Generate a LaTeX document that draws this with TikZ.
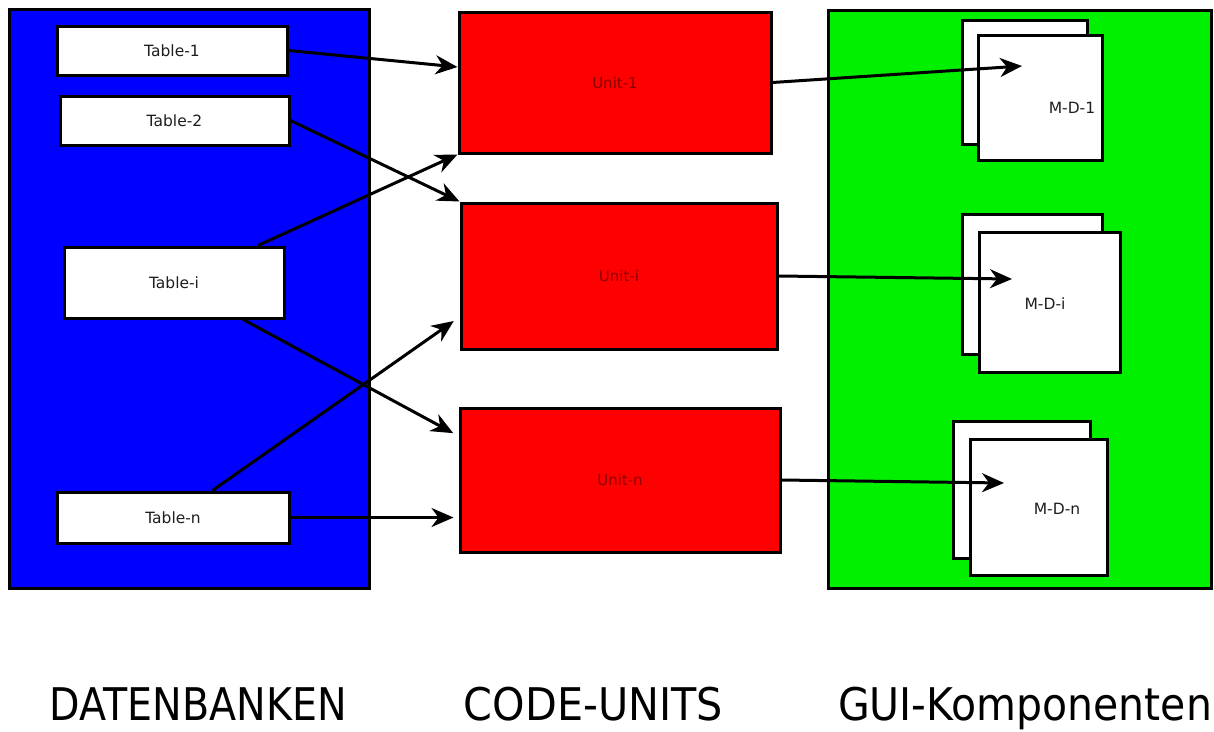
\documentclass[tikz,border=0pt]{standalone}
\usepackage{fontspec}
\usepackage{graphicx}
\setmainfont{DejaVu Sans}
\usetikzlibrary{arrows.meta,calc}

\definecolor{dbblue}{RGB}{0,0,255}
\definecolor{unitred}{RGB}{255,0,0}
\definecolor{guigreen}{RGB}{0,240,0}
\definecolor{unittext}{RGB}{140,0,0}
\definecolor{labeltext}{RGB}{30,30,30}

\tikzset{
  panel/.style={draw=black, line width=3pt, inner sep=0pt},
  tablebox/.style={draw=black, fill=white, line width=3pt, inner sep=0pt,
    font=\fontsize{15.5}{17}\selectfont, text=labeltext},
  unitbox/.style={draw=black, fill=unitred, line width=3pt, inner sep=0pt,
    font=\fontsize{15}{17}\selectfont, text=unittext},
  sheet/.style={draw=black, fill=white, line width=3pt, inner sep=0pt},
  sheetlabel/.style={font=\fontsize{15.5}{17}\selectfont, text=labeltext, inner sep=0pt},
  title/.style={font=\fontsize{45}{50}\selectfont, anchor=base, inner sep=0pt},
  link/.style={line width=3pt, -{Stealth[length=22pt, width=19pt, inset=7pt]}},
}

\begin{document}
\begin{tikzpicture}[x=1pt, y=-1pt]
  \useasboundingbox (0,0) rectangle (1214,731);

  % column backgrounds
  \node[panel, fill=dbblue, minimum width=360pt, minimum height=579pt] (db) at (189,298.5) {};
  \node[panel, fill=guigreen, minimum width=383pt, minimum height=578pt] (gui) at (1019.5,299) {};

  % database tables
  \node[tablebox, minimum width=230pt, minimum height=49pt] (t1) at (172,50.5) {Table-1};
  \node[tablebox, minimum width=229pt, minimum height=49pt] (t2) at (174.5,120.5) {Table-2};
  \node[tablebox, minimum width=220pt, minimum height=71pt] (ti) at (174,282.5) {Table-i};
  \node[tablebox, minimum width=232pt, minimum height=51pt] (tn) at (173,517.5) {Table-n};

  % code units
  \node[unitbox, minimum width=312pt, minimum height=141pt] (u1) at (615,82.5) {Unit-1};
  \node[unitbox, minimum width=316pt, minimum height=146pt] (ui) at (619,276) {Unit-i};
  \node[unitbox, minimum width=320pt, minimum height=144pt] (un) at (620,480) {Unit-n};

  % GUI components: stacked master-detail sheets
  \node[sheet, minimum width=125pt, minimum height=124pt] (m1b) at (1024.5,82) {};
  \node[sheet, minimum width=124pt, minimum height=125pt] (m1) at (1040,97.5) {};
  \node[sheetlabel] (m1l) at (1072,108) {M-D-1};

  \node[sheet, minimum width=140pt, minimum height=140pt] (mib) at (1032,284) {};
  \node[sheet, minimum width=141pt, minimum height=140pt] (mi) at (1049.5,302) {};
  \node[sheetlabel] (mil) at (1045,304) {M-D-i};

  \node[sheet, minimum width=137pt, minimum height=137pt] (mnb) at (1021.5,489.5) {};
  \node[sheet, minimum width=137pt, minimum height=136pt] (mn) at (1038.5,507) {};
  \node[sheetlabel] (mnl) at (1057,509) {M-D-n};

  % arrow targets inside the sheets
  \coordinate (a1) at (1022,66);
  \coordinate (ai) at (1012,279);
  \coordinate (an) at (1004,483);

  % tables -> units
  \draw[link] (t1.east) -- (u1.west |- 0,67);
  \draw[link] (t2.east) -- (ui.north west);
  \draw[link] ($(ti.north west)!0.877!(ti.north east)$) -- (u1.south west);
  \draw[link, shorten >=6pt] ($(ti.south west)!0.81!(ti.south east)$) -- (un.west |- 0,436);
  \draw[link, shorten >=7pt] ($(tn.north west)!0.668!(tn.north east)$) -- (ui.west |- 0,317);
  \draw[link, shorten >=5pt] (tn.east) -- (un.west |- tn.east);

  % units -> GUI components
  \draw[link] (u1.east) -- (a1);
  \draw[link] (ui.east) -- (ai);
  \draw[link] (un.east) -- (an);

  % column titles
  \node[title] (c1) at (198.5,720) {\resizebox{297pt}{\height}{DATENBANKEN}};
  \node[title] (c2) at (593.5,720) {\resizebox{259pt}{\height}{CODE-UNITS}};
  \node[title] (c3) at (1025,720) {\resizebox{374pt}{\height}{GUI-Komponenten}};
\end{tikzpicture}
\end{document}
